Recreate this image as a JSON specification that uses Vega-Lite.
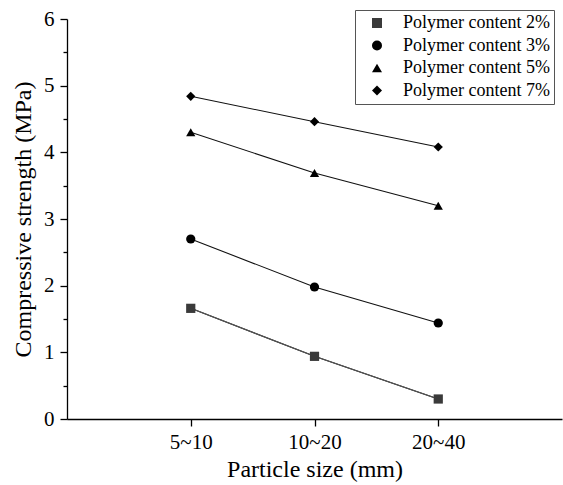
{
  "$schema": "https://vega.github.io/schema/vega-lite/v6.json",
  "autosize": "none",
  "width": 495,
  "height": 400,
  "padding": {"left": 67, "top": 19, "right": 1, "bottom": 66},
  "background": "white",
  "config": {
    "view": {"stroke": null},
    "font": "Times New Roman",
    "axis": {
      "domainColor": "black", "domainWidth": 1.3, "tickColor": "black", "tickWidth": 1.3,
      "labelColor": "black", "titleColor": "black", "labelFont": "Times New Roman",
      "titleFont": "Times New Roman", "labelFontSize": 21, "titleFontSize": 24,
      "titleFontWeight": "normal", "grid": false
    },
    "legend": {"labelFont": "Times New Roman", "labelFontSize": 18, "labelColor": "black"}
  },
  "data": {
    "values": [
      {"size": "5~10", "series": "Polymer content 2%", "strength": 1.66},
      {"size": "10~20", "series": "Polymer content 2%", "strength": 0.94},
      {"size": "20~40", "series": "Polymer content 2%", "strength": 0.30},
      {"size": "5~10", "series": "Polymer content 3%", "strength": 2.70},
      {"size": "10~20", "series": "Polymer content 3%", "strength": 1.98},
      {"size": "20~40", "series": "Polymer content 3%", "strength": 1.44},
      {"size": "5~10", "series": "Polymer content 5%", "strength": 4.30},
      {"size": "10~20", "series": "Polymer content 5%", "strength": 3.69},
      {"size": "20~40", "series": "Polymer content 5%", "strength": 3.20},
      {"size": "5~10", "series": "Polymer content 7%", "strength": 4.84},
      {"size": "10~20", "series": "Polymer content 7%", "strength": 4.46},
      {"size": "20~40", "series": "Polymer content 7%", "strength": 4.08}
    ]
  },
  "encoding": {
    "x": {
      "field": "size", "type": "ordinal", "sort": ["5~10", "10~20", "20~40"],
      "scale": {"type": "point", "padding": 1},
      "axis": {"title": "Particle size (mm)", "labelAngle": 0, "tickSize": 7, "labelPadding": 5, "titlePadding": 5}
    },
    "y": {
      "field": "strength", "type": "quantitative",
      "scale": {"domain": [0, 6], "nice": false, "zero": true},
      "axis": {
        "title": "Compressive strength (MPa)",
        "values": [0, 0.5, 1, 1.5, 2, 2.5, 3, 3.5, 4, 4.5, 5, 5.5, 6],
        "labelExpr": "datum.value % 1 === 0 ? format(datum.value, 'd') : ''",
        "tickSize": {"condition": {"test": "datum.value % 1 === 0", "value": 7}, "value": 4},
        "labelPadding": 6, "titlePadding": 8
      }
    }
  },
  "layer": [
    {
      "mark": {"type": "line", "strokeWidth": 1.1, "color": "#111111"},
      "encoding": {
        "detail": {"field": "series"}
      }
    },
    {
      "transform": [{"filter": "datum.series === 'Polymer content 2%'"}],
      "mark": {"type": "line", "strokeWidth": 1.1, "color": "#555555"},
      "encoding": {}
    },
    {
      "mark": {"type": "point", "filled": true, "opacity": 1, "size": 85},
      "encoding": {
        "color": {
          "field": "series", "type": "nominal",
          "scale": {"domain": ["Polymer content 2%", "Polymer content 3%", "Polymer content 5%", "Polymer content 7%"], "range": ["#3a3a3a", "#000000", "#000000", "#000000"]},
          "legend": {
            "title": null, "orient": "none", "legendX": 288, "legendY": -9,
            "strokeColor": "#555555", "fillColor": "white", "padding": 4,
            "symbolSize": 100, "symbolOffset": 9, "labelOffset": 17, "rowPadding": 4.5,
            "encode": {
              "symbols": {
                "update": {
                  "shape": {"signal": "datum.value === 'Polymer content 2%' ? 'M-3.8,-0.12H-0.8V0.12H-3.8Z M0.8,-0.12H3.8V0.12H0.8Z M-0.8,-0.8H0.8V0.8H-0.8Z' : datum.value === 'Polymer content 3%' ? 'M-3.8,-0.12H-1V0.12H-3.8Z M1,-0.12H3.8V0.12H1Z M1,0A1,1,0,1,1,-1,0A1,1,0,1,1,1,0Z' : datum.value === 'Polymer content 5%' ? 'M-3.8,-0.12H-0.7V0.12H-3.8Z M0.7,-0.12H3.8V0.12H0.7Z M0,-1.1L1.2,0.85L-1.2,0.85Z' : 'M-3.8,-0.12H-1.2V0.12H-3.8Z M1.2,-0.12H3.8V0.12H1.2Z M0,-1.1L1.2,0L0,1.1L-1.2,0Z'"}
                }
              }
            }
          }
        },
        "shape": {
          "field": "series", "type": "nominal",
          "scale": {"domain": ["Polymer content 2%", "Polymer content 3%", "Polymer content 5%", "Polymer content 7%"], "range": ["square", "circle", "triangle-up", "diamond"]},
          "legend": {
            "title": null, "orient": "none", "legendX": 288, "legendY": -9,
            "strokeColor": "#555555", "fillColor": "white", "padding": 4,
            "symbolSize": 100, "symbolOffset": 9, "labelOffset": 17, "rowPadding": 4.5,
            "encode": {
              "symbols": {
                "update": {
                  "shape": {"signal": "datum.value === 'Polymer content 2%' ? 'M-3.8,-0.12H-0.8V0.12H-3.8Z M0.8,-0.12H3.8V0.12H0.8Z M-0.8,-0.8H0.8V0.8H-0.8Z' : datum.value === 'Polymer content 3%' ? 'M-3.8,-0.12H-1V0.12H-3.8Z M1,-0.12H3.8V0.12H1Z M1,0A1,1,0,1,1,-1,0A1,1,0,1,1,1,0Z' : datum.value === 'Polymer content 5%' ? 'M-3.8,-0.12H-0.7V0.12H-3.8Z M0.7,-0.12H3.8V0.12H0.7Z M0,-1.1L1.2,0.85L-1.2,0.85Z' : 'M-3.8,-0.12H-1.2V0.12H-3.8Z M1.2,-0.12H3.8V0.12H1.2Z M0,-1.1L1.2,0L0,1.1L-1.2,0Z'"}
                }
              }
            }
          }
        }
      }
    }
  ]
}
